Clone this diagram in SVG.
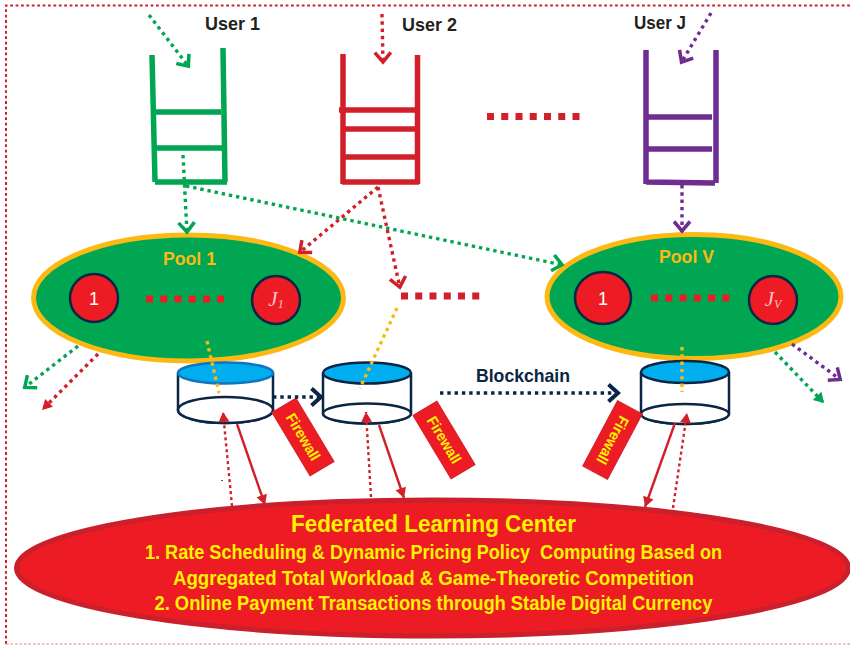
<svg xmlns="http://www.w3.org/2000/svg" width="850" height="645" viewBox="0 0 850 645">
<style>
text{font-family:"Liberation Sans",Arial,sans-serif;font-weight:bold}
.lbl{fill:#231f20;font-size:18.500px}
.pool{fill:#fdb913;font-size:18.500px}
.fw{fill:#fff200;font-size:15px;text-anchor:middle}
.fl{fill:#fff200;font-size:20px}
.num{fill:#fff;font-weight:normal;font-size:18px;text-anchor:middle}
.jn{fill:#f6c4c4;font-family:"Liberation Serif",serif;font-style:italic;font-weight:normal;font-size:21px;text-anchor:middle}
.q{fill:none;stroke-width:5.500}
.d{fill:none;stroke-width:3.400;stroke-dasharray:3.400 3.900}
.sq{fill:none;stroke-width:7;stroke-dasharray:7 7.250}
.ell{fill:#00a651;stroke:#fdb913;stroke-width:5}
.cir{fill:#ed1c24;stroke:#0b2545;stroke-width:2.500}
.cyl{fill:#fff;stroke:#0b2545;stroke-width:2.500}
.top{fill:#00aeef;stroke:#0b2545;stroke-width:2.500}
.fwr{fill:#ed1c24;stroke:#d2232a;stroke-width:1}
.g{stroke:#00a651}.r{stroke:#d2202a}.p{stroke:#6f2c91}.n{stroke:#0b2545}.y{stroke:#fdb913}
.mo{fill:none;stroke-width:3.500}
.thin{stroke-width:2.400;stroke-dasharray:3 3}
</style>
<defs>
<marker id="ag" markerUnits="userSpaceOnUse" markerWidth="24" markerHeight="24" refX="14" refY="12" orient="auto" overflow="visible"><path class="mo g" d="M3.500,4 L13,12 L3.500,20"/></marker>
<marker id="ar" markerUnits="userSpaceOnUse" markerWidth="24" markerHeight="24" refX="14" refY="12" orient="auto" overflow="visible"><path class="mo r" d="M3.500,4 L13,12 L3.500,20"/></marker>
<marker id="ap" markerUnits="userSpaceOnUse" markerWidth="24" markerHeight="24" refX="14" refY="12" orient="auto" overflow="visible"><path class="mo p" d="M3.500,4 L13,12 L3.500,20"/></marker>
<marker id="an" markerUnits="userSpaceOnUse" markerWidth="24" markerHeight="24" refX="14" refY="12" orient="auto" overflow="visible"><path class="mo n" style="stroke-width:4" d="M3.500,3.500 L13,12 L3.500,20.500"/></marker>
<marker id="tr" markerUnits="userSpaceOnUse" markerWidth="16" markerHeight="16" refX="9" refY="8" orient="auto" overflow="visible"><path fill="#d2202a" d="M-1,2.500 L9,8 L-1,13.500 Z"/></marker>
<marker id="tg" markerUnits="userSpaceOnUse" markerWidth="16" markerHeight="16" refX="9" refY="8" orient="auto" overflow="visible"><path fill="#00a651" d="M-1,2 L9,8 L-1,14 Z"/></marker>
</defs>
<path id="border" d="M850,5.500 H6 V644" fill="none" stroke="#d2202a" stroke-width="2" stroke-dasharray="2.800 2.600"/>
<path id="border-bottom" d="M6,644 H850" fill="none" stroke="#f0a8a8" stroke-width="1.500" stroke-dasharray="2.500 2"/>

<g id="queue-1">
<g class="q" style="stroke:#00a651"><path d="M152,55 L155,182 M223,48 L225,182 M155,182 H227 M155,112 H221 M156,148 H223"/></g>
</g>
<g id="queue-2">
<g class="q" style="stroke:#d2202a"><path d="M343,54 V184 M417.500,55 V184 M342,182 H419 M339,110 H416 M343,129 H416 M343,157 H416"/></g>
</g>
<g id="queue-j">
<g class="q" style="stroke:#6f2c91"><path d="M646,50 V184 M716,50 V183 M646,182 L715,183 M648,117 H712 M648,149 H712"/></g>
</g>
<path id="dots-queues" class="sq r" d="M487,116.500 H580"/>
<text id="label-user-1" class="lbl" x="205" y="30" textLength="55" lengthAdjust="spacingAndGlyphs">User 1</text>
<text id="label-user-2" class="lbl" x="402" y="31" textLength="55" lengthAdjust="spacingAndGlyphs">User 2</text>
<text id="label-user-j" class="lbl" x="634" y="29" textLength="52" lengthAdjust="spacingAndGlyphs">User J</text>

<g id="pool-1">
<ellipse class="ell" cx="188.500" cy="298" rx="155" ry="63"/>
<text class="pool" x="163" y="265" textLength="53" lengthAdjust="spacingAndGlyphs">Pool 1</text>
<circle class="cir" cx="94" cy="298" r="24"/><text class="num" x="94" y="304.500">1</text>
<circle class="cir" cx="276" cy="300" r="24"/><text class="jn" x="276" y="306">J<tspan font-size="12" dy="2">1</tspan></text>
<path class="sq" style="stroke:#ed1c24" d="M146,299 H224"/>
</g>
<g id="pool-v">
<ellipse class="ell" cx="694" cy="296.500" rx="147" ry="62"/>
<text class="pool" x="659" y="263" textLength="55" lengthAdjust="spacingAndGlyphs">Pool V</text>
<ellipse class="cir" cx="603" cy="298" rx="28" ry="26"/><text class="num" x="603" y="304.500">1</text>
<circle class="cir" cx="773" cy="300" r="24"/><text class="jn" x="773" y="306">J<tspan font-size="12" dy="2">V</tspan></text>
<path class="sq" style="stroke:#ed1c24" d="M651,298 H730"/>
</g>
<path id="dots-pools" class="sq r" d="M401,296 H480"/>

<g id="ledger-1">
<path class="cyl" d="M178,373 V410 A47.500,13 0 0 0 273,410 V373"/>
<ellipse class="cyl" cx="225.500" cy="410" rx="47.500" ry="13"/>
<ellipse class="top" style="stroke:#0f75bc" cx="225.500" cy="373" rx="47.500" ry="10.500"/>
</g>
<g id="ledger-2">
<path class="cyl" d="M323,373 V413.500 A44,10 0 0 0 411,413.500 V373"/>
<ellipse class="cyl" cx="367" cy="413.500" rx="44" ry="10"/>
<ellipse class="top" cx="367" cy="373" rx="44" ry="10.500"/>
</g>
<g id="ledger-3">
<path class="cyl" d="M641,372 V414 A44,10 0 0 0 729,414 V372"/>
<ellipse class="cyl" cx="685" cy="414" rx="44" ry="10"/>
<ellipse class="top" cx="685" cy="372" rx="44" ry="11"/>
</g>

<g id="firewall-1">
<rect class="fwr" x="-37" y="-14" width="74" height="28" transform="translate(303,437) rotate(59)"/>
<text class="fw" transform="translate(303,437) rotate(59)" y="5" textLength="52" lengthAdjust="spacingAndGlyphs">Firewall</text>
</g>
<g id="firewall-2">
<rect class="fwr" x="-37" y="-14" width="74" height="28" transform="translate(444,440) rotate(59)"/>
<text class="fw" transform="translate(444,440) rotate(59)" y="5" textLength="52" lengthAdjust="spacingAndGlyphs">Firewall</text>
</g>
<g id="firewall-3">
<rect class="fwr" x="-37" y="-14" width="74" height="28" transform="translate(612.500,440) rotate(118)"/>
<text class="fw" transform="translate(612.500,440) rotate(118)" y="5" textLength="52" lengthAdjust="spacingAndGlyphs">Firewall</text>
</g>

<g id="center">
<ellipse cx="432.500" cy="568" rx="416" ry="68" fill="#ed1c24" stroke="#c9202c" stroke-width="5"/>
<text x="291" y="532" fill="#fff200" font-size="24" textLength="285" lengthAdjust="spacingAndGlyphs">Federated Learning Center</text>
<text class="fl" x="145" y="559" textLength="577" lengthAdjust="spacingAndGlyphs" xml:space="preserve">1. Rate Scheduling &amp; Dynamic Pricing Policy  Computing Based on</text>
<text class="fl" x="173" y="585" textLength="521" lengthAdjust="spacingAndGlyphs">Aggregated Total Workload &amp; Game-Theoretic Competition</text>
<text class="fl" x="154.500" y="610" textLength="558" lengthAdjust="spacingAndGlyphs">2. Online Payment Transactions through Stable Digital Currency</text>
</g>
<text id="label-blockchain" x="476" y="382" fill="#0b2545" font-size="18.500" textLength="94" lengthAdjust="spacingAndGlyphs">Blockchain</text>

<g id="connectors">
<path class="d g" marker-end="url(#ag)" d="M149,15 L189,67"/>
<path class="d r" marker-end="url(#ar)" d="M382,14 L383,63"/>
<path class="d p" marker-end="url(#ap)" d="M711,13 L681,63"/>
<path class="d g" marker-end="url(#ag)" d="M183,155 L187,233"/>
<path class="d g" marker-end="url(#ag)" d="M186,186 L563,265"/>
<path class="d r" marker-end="url(#ar)" d="M378,187 L299,253"/>
<path class="d r" marker-end="url(#ar)" d="M378,187 L400,288"/>
<path class="d p" marker-end="url(#ap)" d="M682,185 L682,232"/>
<path class="d g" marker-end="url(#ag)" d="M78,346 L24,388"/>
<path class="d r" marker-end="url(#tr)" d="M98,354 L42,410"/>
<path class="d g" marker-end="url(#tg)" d="M775,352 L824,403"/>
<path class="d p" marker-end="url(#ap)" d="M792,344 L841,380"/>
<path class="d y" d="M207,341 L219,393"/>
<path class="d y" d="M397,308 L360,388"/>
<path class="d y" d="M682,347 V392"/>
<path class="d n" marker-end="url(#an)" d="M273,397 H322"/>
<path class="d n" marker-end="url(#an)" d="M440,393 H619"/>
<path class="d r thin" marker-end="url(#tr)" d="M232,506 L223,412"/>
<path class="d r thin" marker-end="url(#tr)" d="M371,497 L366,412"/>
<path class="d r thin" marker-end="url(#tr)" d="M673,508 L687,413"/>
<path class="r" fill="none" stroke-width="2.400" marker-end="url(#tr)" d="M237,424 L265,505"/>
<path class="r" fill="none" stroke-width="2.400" marker-end="url(#tr)" d="M379,425 L404,498"/>
<path class="r" fill="none" stroke-width="2.400" marker-end="url(#tr)" d="M675,423 L645,507"/>
</g>
<rect x="221" y="480" width="2" height="1" fill="#0f75bc"/>
</svg>
